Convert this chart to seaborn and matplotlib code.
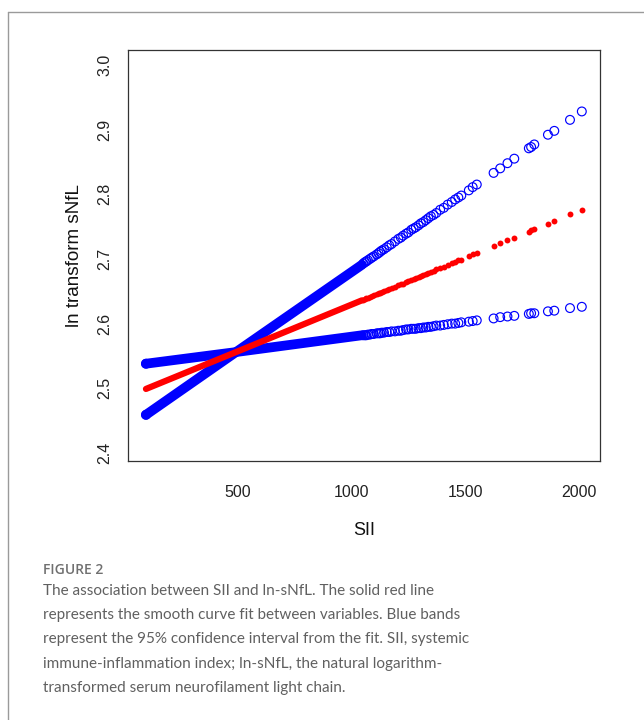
import matplotlib
matplotlib.use("Agg")
import matplotlib.pyplot as plt
import seaborn as sns
import pandas as pd
from matplotlib.lines import Line2D

# ---- data ----
# dense part of the curves (drawn as a continuous thick band)
sii_dense = [95, 491, 1045]
fit_dense = [2.499, 2.556, 2.636]
ci_a_dense = [2.459, 2.556, 2.691]
ci_b_dense = [2.538, 2.556, 2.582]

# sparse observations (individual markers)
sii_sparse = [1051, 1058, 1064, 1071, 1080, 1088, 1097, 1110, 1118, 1125,
              1132, 1142, 1154, 1165, 1175, 1190, 1205, 1216, 1226, 1239,
              1249, 1262, 1272, 1282, 1294, 1304, 1315, 1326, 1337, 1348,
              1360, 1372, 1389, 1405, 1422, 1440, 1455, 1469, 1482, 1515,
              1532, 1550, 1624, 1653, 1685, 1715, 1779, 1789, 1803, 1863,
              1891, 1960, 2012]
fit_sparse = [2.637, 2.638, 2.639, 2.640, 2.641, 2.642, 2.644, 2.646, 2.647, 2.648,
              2.649, 2.650, 2.652, 2.654, 2.655, 2.657, 2.659, 2.661, 2.662, 2.664,
              2.666, 2.668, 2.669, 2.671, 2.672, 2.674, 2.675, 2.677, 2.678, 2.680,
              2.682, 2.684, 2.686, 2.688, 2.691, 2.693, 2.696, 2.698, 2.699, 2.704,
              2.707, 2.709, 2.720, 2.724, 2.729, 2.733, 2.742, 2.744, 2.746, 2.754,
              2.759, 2.769, 2.776]
ci_a_sparse = [2.693, 2.695, 2.696, 2.698, 2.700, 2.702, 2.704, 2.707, 2.709, 2.711,
               2.713, 2.715, 2.718, 2.721, 2.723, 2.727, 2.731, 2.733, 2.736, 2.739,
               2.741, 2.745, 2.747, 2.749, 2.752, 2.755, 2.757, 2.760, 2.763, 2.766,
               2.768, 2.771, 2.776, 2.779, 2.784, 2.788, 2.792, 2.795, 2.798, 2.806,
               2.811, 2.815, 2.833, 2.840, 2.848, 2.855, 2.871, 2.873, 2.877, 2.892,
               2.898, 2.915, 2.928]
ci_b_sparse = [2.582, 2.582, 2.582, 2.583, 2.583, 2.584, 2.584, 2.585, 2.585, 2.585,
               2.586, 2.586, 2.587, 2.587, 2.588, 2.588, 2.589, 2.589, 2.590, 2.591,
               2.591, 2.592, 2.592, 2.592, 2.593, 2.593, 2.594, 2.594, 2.595, 2.595,
               2.596, 2.597, 2.597, 2.598, 2.599, 2.600, 2.600, 2.601, 2.602, 2.603,
               2.604, 2.605, 2.608, 2.610, 2.611, 2.612, 2.615, 2.616, 2.616, 2.619,
               2.620, 2.624, 2.626]

x_ticks = [500, 1000, 1500, 2000]
y_ticks = [2.4, 2.5, 2.6, 2.7, 2.8, 2.9, 3.0]
x_label = "SII"
y_label = "ln transform sNfL"
fig_title = "FIGURE 2"
caption = ("The association between SII and ln-sNfL. The solid red line\n"
           "represents the smooth curve fit between variables. Blue bands\n"
           "represent the 95% confidence interval from the fit. SII, systemic\n"
           "immune-inflammation index; ln-sNfL, the natural logarithm-\n"
           "transformed serum neurofilament light chain.")

sns.set_theme(style="white")
plt.rcParams["font.family"] = ["Liberation Sans", "DejaVu Sans"]

dense = pd.DataFrame({"SII": sii_dense, "fit": fit_dense,
                      "ci_a": ci_a_dense, "ci_b": ci_b_dense})
sparse = pd.DataFrame({"SII": sii_sparse, "fit": fit_sparse,
                       "ci_a": ci_a_sparse, "ci_b": ci_b_sparse})

fig = plt.figure(figsize=(6.44, 7.2), dpi=100)
ax = fig.add_axes([128 / 644, 1 - 461 / 720, 472 / 644, 411 / 720])

blue = "#0000FF"
red = "#FF0000"

# continuous dense bands
for col in ["ci_a", "ci_b"]:
    sns.lineplot(data=dense, x="SII", y=col, ax=ax, color=blue, lw=7.0,
                 solid_capstyle="round", zorder=2)
sns.lineplot(data=dense, x="SII", y="fit", ax=ax, color=red, lw=4.5,
             solid_capstyle="round", zorder=3)

# sparse markers
for col in ["ci_a", "ci_b"]:
    sns.scatterplot(data=sparse, x="SII", y=col, ax=ax, s=40, marker="o",
                    facecolor="none", edgecolor=blue, linewidth=0.85, zorder=2)
    sns.scatterplot(data=dense.iloc[[0]], x="SII", y=col, ax=ax, s=40, marker="o",
                    facecolor="none", edgecolor=blue, linewidth=0.85, zorder=2)
sns.scatterplot(data=sparse, x="SII", y="fit", ax=ax, s=18, marker="o",
                color=red, edgecolor=red, linewidth=0, zorder=3)

ax.set_xlim(16, 2092)
ax.set_ylim(2.3876, 3.023)
ax.set_xticks(x_ticks)
ax.set_xticklabels([str(v) for v in x_ticks], fontsize=11.5)
ax.set_yticks(y_ticks)
ax.set_yticklabels([f"{v:.1f}" for v in y_ticks], fontsize=11.5, rotation=90,
                   va="center")
ax.tick_params(axis="both", direction="out", length=5.5, width=0.8,
               color="#333333", labelcolor="#222222")
ax.tick_params(axis="x", pad=11.5)
ax.tick_params(axis="y", pad=6)
for sp in ax.spines.values():
    sp.set_visible(True)
    sp.set_color("#333333")
    sp.set_linewidth(0.9)
ax.set_xlabel(x_label, fontsize=13, color="#111111", labelpad=16)
ax.set_ylabel(y_label, fontsize=13.6, color="#111111", labelpad=10)

# card border
fig.add_artist(Line2D([8 / 644, 8 / 644], [0, 1 - 12 / 720], transform=fig.transFigure,
                      color="#9a9a9a", lw=1.0))
fig.add_artist(Line2D([8 / 644, 1], [1 - 12 / 720, 1 - 12 / 720], transform=fig.transFigure,
                      color="#9a9a9a", lw=1.0))

fig.text(43 / 644, 1 - 570 / 720, fig_title, fontsize=10, color="#707070",
         family=["Open Sans", "DejaVu Sans"], weight="semibold", va="center")
fig.text(43 / 644, 1 - 584 / 720, caption, fontsize=11, color="#606060",
         family=["Lato", "DejaVu Sans"], va="top", linespacing=1.93)

fig.savefig("out.png", dpi=100)
